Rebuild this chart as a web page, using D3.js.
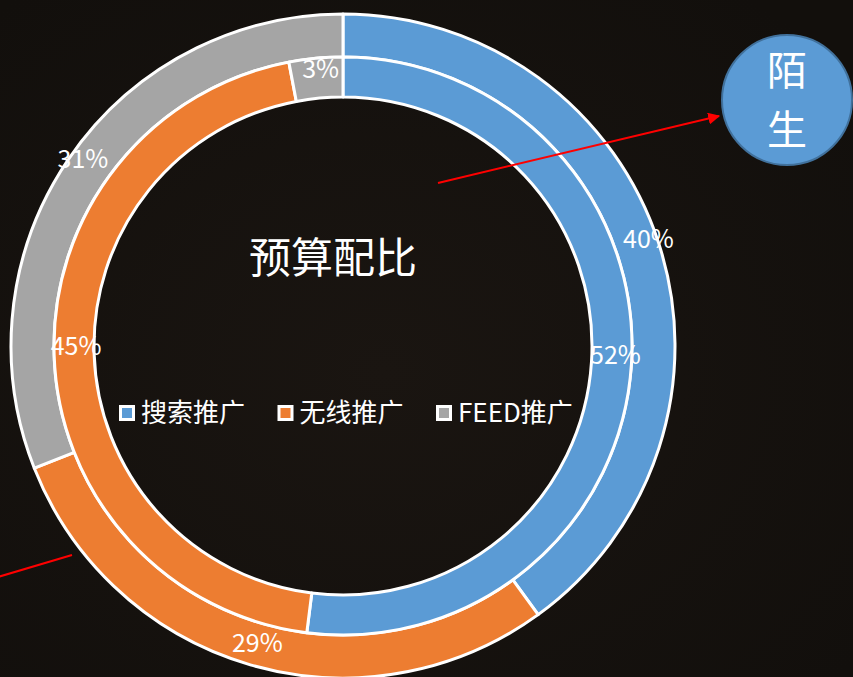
<!DOCTYPE html>
<html>
<head>
<meta charset="utf-8">
<script src="https://cdn.jsdelivr.net/npm/d3@7"></script>
<style>
  html, body { margin: 0; padding: 0; background: #15110e; }
  svg { display: block; }
  text { font-family: "Noto Sans CJK SC", "Noto Sans", sans-serif; fill: #fff; }
</style>
</head>
<body>
<svg></svg>
<script>
const categories = ["搜索推广", "无线推广", "FEED推广"]
const outerValues = [40, 29, 31]
const innerValues = [52, 45, 3]
const title = "预算配比"
const bubbleText = ["陌", "生"]

const width = 853, height = 677
const cx = 343, cy = 346

const svg = d3.select("svg")
    .attr("width", width)
    .attr("height", height)

// background with a soft glow
const defs = svg.append("defs")
const bg = defs.append("radialGradient").attr("id", "bg").attr("cx", "45%").attr("cy", "55%").attr("r", "70%")
bg.append("stop").attr("offset", "0%").attr("stop-color", "#1a1511")
bg.append("stop").attr("offset", "100%").attr("stop-color", "#120f0c")

defs.append("marker")
    .attr("id", "arrow")
    .attr("viewBox", "0 0 10 10")
    .attr("refX", 9).attr("refY", 5)
    .attr("markerWidth", 6).attr("markerHeight", 6)
    .attr("orient", "auto")
    .append("path")
    .attr("d", "M0,0 L10,5 L0,10 z")
    .attr("fill", "#ff0000")

svg.append("rect").attr("width", width).attr("height", height).attr("fill", "url(#bg)")

const color = d3.scaleOrdinal()
    .domain(categories)
    .range(["#5b9bd5", "#ed7d31", "#a5a5a5"])

const pie = d3.pie().sort(null).value(d => d.value)

const rings = [
    { values: outerValues, inner: 289, outer: 332, labelR: 318 },
    { values: innerValues, inner: 249, outer: 289, labelR: 270 }
]

const chart = svg.append("g").attr("transform", `translate(${cx}, ${cy})`)

rings.forEach(ring => {
    const arcs = pie(categories.map((c, i) => ({ name: c, value: ring.values[i] })))
    const arc = d3.arc().innerRadius(ring.inner).outerRadius(ring.outer)
    const labelArc = d3.arc().innerRadius(ring.labelR).outerRadius(ring.labelR)

    chart.append("g")
        .selectAll("path")
        .data(arcs)
        .enter()
        .append("path")
        .attr("d", arc)
        .attr("fill", d => color(d.data.name))
        .attr("stroke", "#fff")
        .attr("stroke-width", 3)
        .attr("stroke-linejoin", "round")

    chart.append("g")
        .selectAll("text")
        .data(arcs)
        .enter()
        .append("text")
        .attr("transform", d => {
            const [x, y] = labelArc.centroid(d)
            return `translate(${x + 3}, ${y - 8})`
        })
        .attr("text-anchor", "middle")
        .attr("dy", "0.35em")
        .attr("font-size", 25)
        .text(d => d.data.value + "%")
})

// title
svg.append("text")
    .attr("x", 333).attr("y", 258)
    .attr("text-anchor", "middle")
    .attr("dy", "0.35em")
    .attr("font-size", 42)
    .text(title)

// legend
const legendX = d3.scalePoint().domain(categories).range([119, 436])
const legend = svg.append("g")
    .selectAll("g.legend")
    .data(categories)
    .enter()
    .append("g")
    .attr("class", "legend")
    .attr("transform", d => `translate(${legendX(d)}, 413)`)

legend.append("rect")
    .attr("x", 1.5).attr("y", -6.5)
    .attr("width", 13).attr("height", 13)
    .attr("fill", d => color(d))
    .attr("stroke", "#fff")
    .attr("stroke-width", 3)

legend.append("text")
    .attr("x", 22)
    .attr("dy", "0.35em")
    .attr("font-size", 26)
    .text(d => d)

// red pointer lines
svg.append("line")
    .attr("x1", 438).attr("y1", 183)
    .attr("x2", 719).attr("y2", 116)
    .attr("stroke", "#ff0000")
    .attr("stroke-width", 2)
    .attr("marker-end", "url(#arrow)")

svg.append("line")
    .attr("x1", -2).attr("y1", 577)
    .attr("x2", 72).attr("y2", 555)
    .attr("stroke", "#ff0000")
    .attr("stroke-width", 2)

// bubble
const bubble = svg.append("g").attr("transform", "translate(787, 100)")
bubble.append("circle")
    .attr("r", 65)
    .attr("fill", "#5b9bd5")
    .attr("stroke", "#41719c")
    .attr("stroke-width", 2)

bubble.selectAll("text")
    .data(bubbleText)
    .enter()
    .append("text")
    .attr("y", (d, i) => -29 + i * 59)
    .attr("dy", "0.35em")
    .attr("text-anchor", "middle")
    .attr("font-size", 40)
    .text(d => d)
</script>
</body>
</html>
